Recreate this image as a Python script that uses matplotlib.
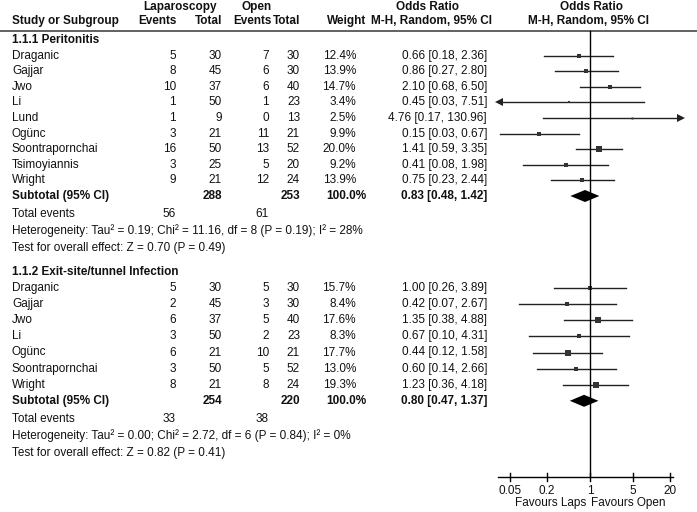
import matplotlib.pyplot as plt
import numpy as np

plt.rcParams['font.family'] = ['Liberation Sans', 'DejaVu Sans']

# group 1.1.1 Peritonitis
g1_study = ["Draganic", "Gajjar", "Jwo", "Li", "Lund", "Ogünc", "Soontrapornchai", "Tsimoyiannis", "Wright"]
g1_lap_ev = [5, 8, 10, 1, 1, 3, 16, 3, 9]
g1_lap_n = [30, 45, 37, 50, 9, 21, 50, 25, 21]
g1_open_ev = [7, 6, 6, 1, 0, 11, 13, 5, 12]
g1_open_n = [30, 30, 40, 23, 13, 21, 52, 20, 24]
g1_weight = [12.4, 13.9, 14.7, 3.4, 2.5, 9.9, 20.0, 9.2, 13.9]
g1_or = [0.66, 0.86, 2.10, 0.45, 4.76, 0.15, 1.41, 0.41, 0.75]
g1_lo = [0.18, 0.27, 0.68, 0.027, 0.17, 0.034, 0.59, 0.08, 0.23]
g1_hi = [2.36, 2.80, 6.50, 7.51, 130.96, 0.67, 3.35, 1.98, 2.44]
g1_ci = ["0.66 [0.18, 2.36]", "0.86 [0.27, 2.80]", "2.10 [0.68, 6.50]", "0.45 [0.03, 7.51]",
         "4.76 [0.17, 130.96]", "0.15 [0.03, 0.67]", "1.41 [0.59, 3.35]", "0.41 [0.08, 1.98]",
         "0.75 [0.23, 2.44]"]
g1_sub = (0.83, 0.48, 1.42)
g1_tot = (288, 253, 56, 61)
g1_het = "Heterogeneity: Tau² = 0.19; Chi² = 11.16, df = 8 (P = 0.19); I² = 28%"
g1_z = "Test for overall effect: Z = 0.70 (P = 0.49)"

# group 1.1.2 Exit-site/tunnel Infection
g2_study = ["Draganic", "Gajjar", "Jwo", "Li", "Ogünc", "Soontrapornchai", "Wright"]
g2_lap_ev = [5, 2, 6, 3, 6, 3, 8]
g2_lap_n = [30, 45, 37, 50, 21, 50, 21]
g2_open_ev = [5, 3, 5, 2, 10, 5, 8]
g2_open_n = [30, 30, 40, 23, 21, 52, 24]
g2_weight = [15.7, 8.4, 17.6, 8.3, 17.7, 13.0, 19.3]
g2_or = [1.00, 0.42, 1.35, 0.67, 0.44, 0.60, 1.23]
g2_lo = [0.26, 0.07, 0.38, 0.10, 0.12, 0.14, 0.36]
g2_hi = [3.89, 2.67, 4.88, 4.31, 1.58, 2.66, 4.18]
g2_sub = (0.80, 0.47, 1.37)
g2_tot = (254, 220, 33, 38)
g2_het = "Heterogeneity: Tau² = 0.00; Chi² = 2.72, df = 6 (P = 0.84); I² = 0%"
g2_z = "Test for overall effect: Z = 0.82 (P = 0.41)"

ticks = [0.05, 0.2, 1, 5, 20]

W, H = 697, 512
fig = plt.figure(figsize=(6.97, 5.12), dpi=100)
ax = fig.add_axes([0, 0, 1, 1])
ax.set_xlim(0, W)
ax.set_ylim(H, 0)
ax.axis('off')

# forest axes, log scale, 1 sits at pixel 590, 61.5 px per decade
fx0, fx1 = 480, 697
ax2 = fig.add_axes([fx0 / W, 0, (fx1 - fx0) / W, 1])
ax2.set_xscale('log')
ax2.set_xlim(10 ** ((fx0 - 590) / 61.5), 10 ** ((fx1 - 590) / 61.5))
ax2.set_ylim(H, 0)
ax2.axis('off')

fs = 8.5
tc = '#111111'
lc = '#222222'
xmin, xmax = 1 / 30, 30

def txt(x, y, s, ha='left', bold=False):
    ax.text(x, y, s, ha=ha, va='center', fontsize=fs, color=tc,
            fontweight='bold' if bold else 'normal')

# header
txt(180, 7, "Laparoscopy", 'center', True)
txt(257, 7, "Open", 'center', True)
txt(428, 7, "Odds Ratio", 'center', True)
txt(592, 7, "Odds Ratio", 'center', True)
txt(12, 21, "Study or Subgroup", bold=True)
txt(177, 21, "Events", 'right', True)
txt(222, 21, "Total", 'right', True)
txt(272, 21, "Events", 'right', True)
txt(300, 21, "Total", 'right', True)
txt(366, 21, "Weight", 'right', True)
txt(492, 21, "M-H, Random, 95% CI", 'right', True)
txt(589, 21, "M-H, Random, 95% CI", 'center', True)
ax.plot([0, W], [31, 31], color='#555555', lw=1.3)


def group(y0, dy, title, study, lev, ln, oev, on, wt, orv, lo, hi, ci, sub, tot, het, z):
    txt(12, y0, title, bold=True)
    ys = [y0 + dy * (i + 1) for i in range(len(study))]
    for i, y in enumerate(ys):
        txt(12, y, study[i])
        txt(176, y, str(lev[i]), 'right')
        txt(222, y, str(ln[i]), 'right')
        txt(269, y, str(oev[i]), 'right')
        txt(300, y, str(on[i]), 'right')
        txt(356, y, f"{wt[i]:.1f}%", 'right')
        txt(487, y, ci[i], 'right')
        a, b = max(lo[i], xmin), min(hi[i], xmax)
        ax2.plot([a, b], [y, y], color=lc, lw=1)
        if lo[i] < xmin:
            ax2.plot([xmin], [y], marker='<', color=lc, ms=5.5, mew=0)
        if hi[i] > xmax:
            ax2.plot([xmax], [y], marker='>', color=lc, ms=5.5, mew=0)
        ax2.plot([orv[i]], [y], marker='s', color='#333333', ms=0.9 * np.sqrt(wt[i]), mew=0)
    ys_sub = ys[-1] + dy
    txt(12, ys_sub, "Subtotal (95% CI)", bold=True)
    txt(222, ys_sub, str(tot[0]), 'right', True)
    txt(300, ys_sub, str(tot[1]), 'right', True)
    txt(366, ys_sub, "100.0%", 'right', True)
    txt(487, ys_sub, f"{sub[0]:.2f} [{sub[1]:.2f}, {sub[2]:.2f}]", 'right', True)
    ax2.fill([sub[1], sub[0], sub[2], sub[0]], [ys_sub, ys_sub - 6, ys_sub, ys_sub + 6],
             color='black', lw=0)
    txt(12, ys_sub + 18, "Total events")
    txt(176, ys_sub + 18, str(tot[2]), 'right')
    txt(269, ys_sub + 18, str(tot[3]), 'right')
    txt(12, ys_sub + 35, het)
    txt(12, ys_sub + 52, z)


group(40, 15.6, "1.1.1 Peritonitis", g1_study, g1_lap_ev, g1_lap_n, g1_open_ev, g1_open_n,
      g1_weight, g1_or, g1_lo, g1_hi, g1_ci, g1_sub, g1_tot, g1_het, g1_z)
g2_ci = [f"{o:.2f} [{l:.2f}, {h:.2f}]" for o, l, h in zip(g2_or, g2_lo, g2_hi)]
group(272, 16.1, "1.1.2 Exit-site/tunnel Infection", g2_study, g2_lap_ev, g2_lap_n, g2_open_ev,
      g2_open_n, g2_weight, g2_or, g2_lo, g2_hi, g2_ci, g2_sub, g2_tot, g2_het, g2_z)

# forest axis
ax2.plot([1, 1], [31, 477], color='black', lw=1)
ax2.plot([0.032, 22.4], [477, 477], color='black', lw=1)
for t in ticks:
    ax2.plot([t, t], [473, 481], color='black', lw=1)
    ax2.text(t, 491, f"{t:g}", ha='center', va='center', fontsize=fs, color=tc)
ax2.text(0.86, 503, "Favours Laps", ha='right', va='center', fontsize=fs, color=tc)
ax2.text(1.04, 503, "Favours Open", ha='left', va='center', fontsize=fs, color=tc)

fig.savefig("out.png", dpi=100, facecolor='white')
